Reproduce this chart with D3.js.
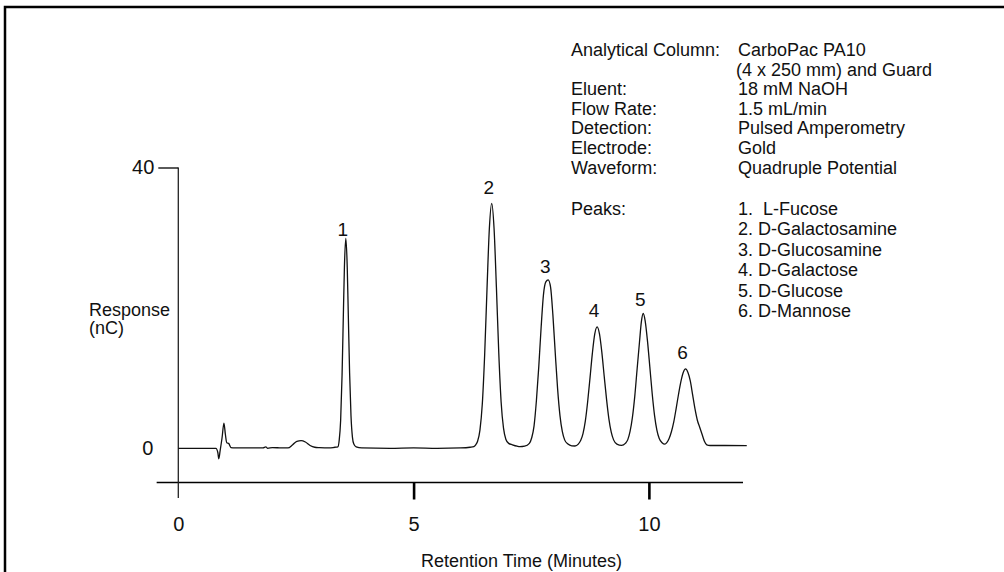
<!DOCTYPE html>
<html>
<head>
<meta charset="utf-8">
<script src="https://cdn.jsdelivr.net/npm/d3@7"></script>
<style>
  html, body { margin: 0; padding: 0; background: #fff; }
  svg { display: block; }
  text { font-family: "Liberation Sans", Arial, Helvetica, sans-serif; fill: #111; }
</style>
</head>
<body>
<svg id="chart" width="1004" height="572"></svg>
<script>
// ---- data ----
const times = [
  0.00, 0.80, 0.84, 0.86, 0.89, 0.93, 0.97, 1.00, 1.03, 1.07, 1.12, 1.20,
  1.50, 1.80, 1.86, 1.90, 2.00, 2.20, 2.33, 2.43, 2.52, 2.61, 2.70, 2.80, 2.90, 3.00, 3.20, 3.33,
  3.39, 3.42, 3.45, 3.48, 3.51, 3.53, 3.56, 3.59, 3.61, 3.64, 3.67, 3.70, 3.73, 3.78, 3.90,
  4.50, 5.00, 5.50, 6.00, 6.20, 6.28, 6.32, 6.36, 6.41, 6.46, 6.51, 6.56, 6.61, 6.66,
  6.71, 6.76, 6.81, 6.86, 6.91, 6.96, 7.02, 7.10, 7.20, 7.26,
  7.36, 7.46, 7.51, 7.56, 7.61, 7.66, 7.71, 7.76, 7.81, 7.86, 7.91, 7.96, 8.01, 8.06, 8.11, 8.16, 8.21, 8.28, 8.36, 8.43,
  8.50, 8.55, 8.60, 8.65, 8.70, 8.75, 8.80, 8.85, 8.90, 8.95, 9.00, 9.05, 9.10, 9.15, 9.20, 9.25, 9.32, 9.42,
  9.50, 9.55, 9.60, 9.65, 9.70, 9.75, 9.80, 9.84, 9.88, 9.92, 9.97, 10.02, 10.07, 10.12, 10.17, 10.22, 10.28, 10.34,
  10.38, 10.43, 10.48, 10.53, 10.58, 10.63, 10.68, 10.73, 10.78, 10.83, 10.88, 10.93, 10.98, 11.03, 11.08, 11.13, 11.18, 11.23, 11.30,
  11.40, 12.08
];
const response = [
  0.00, 0.00, -0.6, -1.5, -0.3, 1.5, 3.6, 2.0, 0.8, 0.7, 0.1, 0.05,
  0.05, 0.05, 0.2, 0.0, 0.1, 0.05, 0.05, 0.5, 1.0, 1.1, 0.9, 0.4, 0.15, 0.1, 0.05, 0.15,
  0.2, 1.2, 4.0, 10.4, 19.8, 25.8, 29.9, 25.8, 19.8, 10.8, 4.6, 1.6, 0.6, 0.2, 0.05,
  0.0, 0.05, 0.0, 0.05, 0.15, 0.25, 0.5, 1.0, 2.6, 6.3, 13.3, 22.7, 31.3, 34.9,
  31.3, 22.9, 13.6, 6.6, 2.9, 1.3, 0.7, 0.5, 0.3, 0.23,
  0.3, 0.7, 1.5, 3.2, 6.8, 11.6, 17.2, 21.9, 23.7, 24.0, 23.0, 19.0, 13.6, 8.5, 4.7, 2.4, 1.2, 0.6, 0.35, 0.33,
  0.6, 1.1, 2.1, 3.9, 6.7, 10.1, 13.6, 16.3, 17.3, 16.3, 13.7, 10.3, 7.0, 4.2, 2.3, 1.2, 0.6, 0.42,
  0.7, 1.2, 2.4, 4.4, 7.4, 11.3, 15.1, 18.0, 19.2, 18.2, 15.3, 11.6, 7.8, 4.7, 2.6, 1.4, 0.8, 0.6,
  0.8, 1.4, 2.4, 3.8, 5.7, 7.7, 9.5, 10.8, 11.3, 10.8, 9.6, 7.6, 5.6, 4.0, 3.0, 2.0, 1.0, 0.5, 0.4,
  0.4, 0.37
];
const peakNumbers = ["1", "2", "3", "4", "5", "6"];
const peakTimes   = [3.56, 6.66, 7.86, 8.90, 9.88, 10.78];
const peakHeights = [29.9, 34.9, 24.0, 17.3, 19.2, 11.3];
const xTickValues = [0, 5, 10];
const yTickValues = [0, 40];
const xTitle = "Retention Time (Minutes)";
const yTitleLines = ["Response", "(nC)"];
const conditionKeys = ["Analytical Column:", "", "Eluent:", "Flow Rate:", "Detection:", "Electrode:", "Waveform:"];
const conditionValues = ["CarboPac PA10", "(4 x 250 mm) and Guard", "18 mM NaOH", "1.5 mL/min", "Pulsed Amperometry", "Gold", "Quadruple Potential"];
const peaksKey = "Peaks:";
const peakNames = ["1.  L-Fucose", "2. D-Galactosamine", "3. D-Glucosamine", "4. D-Galactose", "5. D-Glucose", "6. D-Mannose"];

// ---- drawing ----
const svg = d3.select("#chart");
const FONT = "Liberation Sans, Arial, sans-serif";

// frame (top + left edge)
svg.append("path")
  .attr("d", "M5,572 L5,7 L1004,7")
  .attr("fill", "none").attr("stroke", "#000").attr("stroke-width", 2.5);

const x = d3.scaleLinear().domain([0, 12]).range([178.3, 743]);
const y = d3.scaleLinear().domain([0, 40]).range([448.3, 167.5]);

// x axis
const xAxisY = 482.5;
svg.append("line")
  .attr("x1", x(-0.46)).attr("x2", x(12)).attr("y1", xAxisY).attr("y2", xAxisY)
  .attr("stroke", "#000").attr("stroke-width", 1.4);
const xAx = svg.append("g").attr("transform", `translate(0,${xAxisY})`)
  .call(d3.axisBottom(x).tickValues(xTickValues).tickSize(17).tickPadding(17).tickFormat(d3.format("d")));
xAx.select(".domain").remove();
xAx.selectAll(".tick line").attr("stroke", "#000").attr("stroke-width", d => d === 0 ? 0 : 2.6);
xAx.selectAll(".tick text").attr("font-size", 20).attr("font-family", FONT).attr("fill", "#111");

// y axis
svg.append("line")
  .attr("x1", x(0)).attr("x2", x(0)).attr("y1", y(40)).attr("y2", 498)
  .attr("stroke", "#222").attr("stroke-width", 1.3);
const yAx = svg.append("g").attr("transform", `translate(${x(0)},0)`)
  .call(d3.axisLeft(y).tickValues(yTickValues).tickSize(20).tickPadding(4).tickFormat(d3.format("d")));
yAx.select(".domain").remove();
yAx.selectAll(".tick line").attr("stroke", "#000").attr("stroke-width", d => d === 40 ? 1.3 : 0);
yAx.selectAll(".tick text").attr("font-size", 20).attr("font-family", FONT).attr("fill", "#111");
yAx.selectAll(".tick").filter(d => d === 0).select("text").attr("x", -25);

// titles
svg.append("text").attr("x", 421).attr("y", 567)
  .attr("font-size", 18).text(xTitle);
svg.selectAll(".ytitle").data(yTitleLines).join("text")
  .attr("class", "ytitle").attr("x", 89).attr("y", (d, i) => 316 + i * 18)
  .attr("font-size", 18).text(d => d);

// chromatogram
const pts = times.map((t, i) => [t, response[i]]);
const line = d3.line().x(d => x(d[0])).y(d => y(d[1])).curve(d3.curveMonotoneX);
svg.append("path").datum(pts)
  .attr("d", line).attr("fill", "none").attr("stroke", "#111").attr("stroke-width", 1.3)
  .attr("stroke-linejoin", "round");

// peak number labels
const labelGap = [2, 9, 7, 10, 8, 10];
svg.selectAll(".plabel").data(peakNumbers).join("text")
  .attr("class", "plabel")
  .attr("x", (d, i) => x(peakTimes[i]) - 3)
  .attr("y", (d, i) => y(peakHeights[i]) - labelGap[i])
  .attr("text-anchor", "middle").attr("font-size", 19).text(d => d);

// conditions block
const keyX = 571, valX = 738, rowTop = 56, rowH = 19.6;
svg.selectAll(".ckey").data(conditionKeys).join("text")
  .attr("class", "ckey").attr("x", keyX).attr("y", (d, i) => rowTop + i * rowH)
  .attr("font-size", 18).text(d => d);
svg.selectAll(".cval").data(conditionValues).join("text")
  .attr("class", "cval").attr("x", (d, i) => i === 1 ? valX - 2 : valX).attr("y", (d, i) => rowTop + i * rowH)
  .attr("font-size", 18).text(d => d);
const peaksTop = 215, peakRowH = 20.4;
svg.append("text").attr("x", keyX).attr("y", peaksTop).attr("font-size", 18).text(peaksKey);
svg.selectAll(".pname").data(peakNames).join("text")
  .attr("class", "pname").attr("x", valX).attr("y", (d, i) => peaksTop + i * peakRowH)
  .attr("font-size", 18).style("white-space", "pre").text(d => d);
</script>
</body>
</html>
